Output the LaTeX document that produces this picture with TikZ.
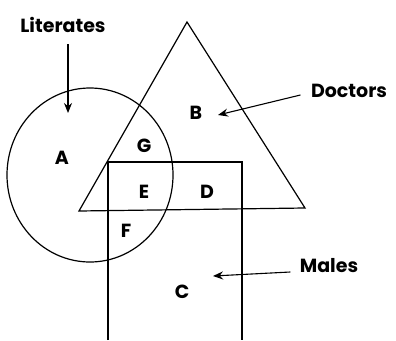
\documentclass[tikz,border=0pt]{standalone}
\usepackage{fontspec}
\setmainfont{Poppins}
\usetikzlibrary{arrows.meta}

\begin{document}
\begin{tikzpicture}[x=1pt, y=-1pt, line width=1.2pt,
  setname/.style={font=\fontsize{19}{21}\selectfont\bfseries, inner sep=1pt},
  region/.style={font=\fontsize{19}{21}\selectfont\bfseries, inner sep=1pt},
  pointer/.style={-{Stealth[length=10pt,width=8pt]}, line width=1.1pt}]

\useasboundingbox (0,0) rectangle (396,340);

% =====================================================================
% The three sets: Literates (circle), Doctors (triangle), Males (box)
% =====================================================================
\draw (90,175) ellipse [x radius=83pt, y radius=87pt];
\draw (187,22) -- (305,208) -- (79,211) -- cycle;
\draw (108,340) -- (108,162) -- (242,162) -- (242,340);

% =====================================================================
% Region letters
% =====================================================================
\node[region] (A) at (62,158) {A};
\node[region] (B) at (196,113) {B};
\node[region] (G) at (144,146) {G};
\node[region] (E) at (144,192) {E};
\node[region] (D) at (207,192) {D};
\node[region] (F) at (126,231) {F};
\node[region] (C) at (182,292) {C};

% =====================================================================
% Set names with pointers
% =====================================================================
\node[setname] (lit) at (63,25) {Literates};
\coordinate (litend) at (68,113);
\draw[pointer] (lit.south -| litend) ++(0,10) -- (litend);

\node[setname] (doc) at (349,91) {Doctors};
\coordinate (docend) at (218,115);
\draw[pointer] (doc.west) ++(-9,4) -- (docend);

\node[setname] (mal) at (329,266) {Males};
\coordinate (malend) at (213,276);
\draw[pointer] (mal.west) ++(-8,6) -- (malend);

\end{tikzpicture}
\end{document}
